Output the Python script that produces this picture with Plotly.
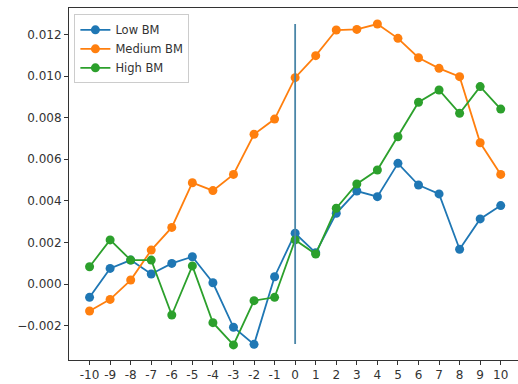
import plotly.graph_objects as go

event_days = list(range(-10, 11))
x_tick_labels = [str(d) for d in event_days]

low_bm = [-0.00064, 0.00075, 0.00115, 0.00048, 0.00099, 0.00131, 0.00006, -0.00208, -0.0029, 0.00035,
          0.00244, 0.0015, 0.0034, 0.00447, 0.0042, 0.0058, 0.00476, 0.00433, 0.00167, 0.00313, 0.00377]
medium_bm = [-0.0013, -0.00074, 0.00019, 0.00163, 0.00272, 0.00487, 0.00449, 0.00527, 0.0072, 0.00793,
             0.00992, 0.01098, 0.01221, 0.01224, 0.0125, 0.01181, 0.01088, 0.01037, 0.00997, 0.00679, 0.00527]
high_bm = [0.00083, 0.00212, 0.00115, 0.00115, -0.00149, 0.00087, -0.00186, -0.00293, -0.0008, -0.00064,
           0.00212, 0.00144, 0.00364, 0.00481, 0.00548, 0.00708, 0.00874, 0.00933, 0.00821, 0.00949, 0.00841]

y_tick_vals = [-0.002, 0.0, 0.002, 0.004, 0.006, 0.008, 0.010, 0.012]
y_tick_labels = ["\u22120.002", "0.000", "0.002", "0.004", "0.006", "0.008", "0.010", "0.012"]

vline_x = [0, 0]
vline_y = [-0.00288, 0.0125]

series = [("Low BM", low_bm, "#1f77b4"), ("Medium BM", medium_bm, "#ff7f0e"), ("High BM", high_bm, "#2ca02c")]

fig = go.Figure()
for name, vals, col in series:
    fig.add_trace(go.Scatter(x=event_days, y=vals, mode="lines+markers", name=name,
                             line=dict(color=col, width=1.8),
                             marker=dict(color=col, size=9)))

fig.add_trace(go.Scatter(x=vline_x, y=vline_y, mode="lines", showlegend=False,
                         line=dict(color="#4a86a8", width=1.8), hoverinfo="skip"))

font = dict(family="DejaVu Sans", size=12, color="#333333")
fig.update_layout(
    width=518, height=384,
    margin=dict(l=69, r=0, t=8, b=24, autoexpand=False),
    paper_bgcolor="white", plot_bgcolor="white",
    font=font,
    showlegend=True,
    legend=dict(x=0.012, y=0.982, xanchor="left", yanchor="top",
                bordercolor="#cccccc", borderwidth=1, bgcolor="rgba(255,255,255,0.8)",
                font=dict(family="DejaVu Sans", size=11.5, color="#333333"),
                tracegroupgap=0, itemwidth=30),
    xaxis=dict(range=[-11, 10.84], tickmode="array", tickvals=event_days, ticktext=x_tick_labels,
               showgrid=False, zeroline=False, showline=True, linecolor="#333333", linewidth=1,
               mirror=True, ticks="outside", ticklen=4, tickcolor="#333333", automargin=False),
    yaxis=dict(range=[-0.003654, 0.01327], tickmode="array", tickvals=y_tick_vals, ticktext=y_tick_labels,
               showgrid=False, zeroline=False, showline=True, linecolor="#333333", linewidth=1,
               mirror=False, ticks="outside", ticklen=4, tickcolor="#333333", automargin=False),
)

fig.write_html("out.html", config={"displayModeBar": False},
               post_script="document.body.style.margin='0';document.body.style.overflow='hidden';")
